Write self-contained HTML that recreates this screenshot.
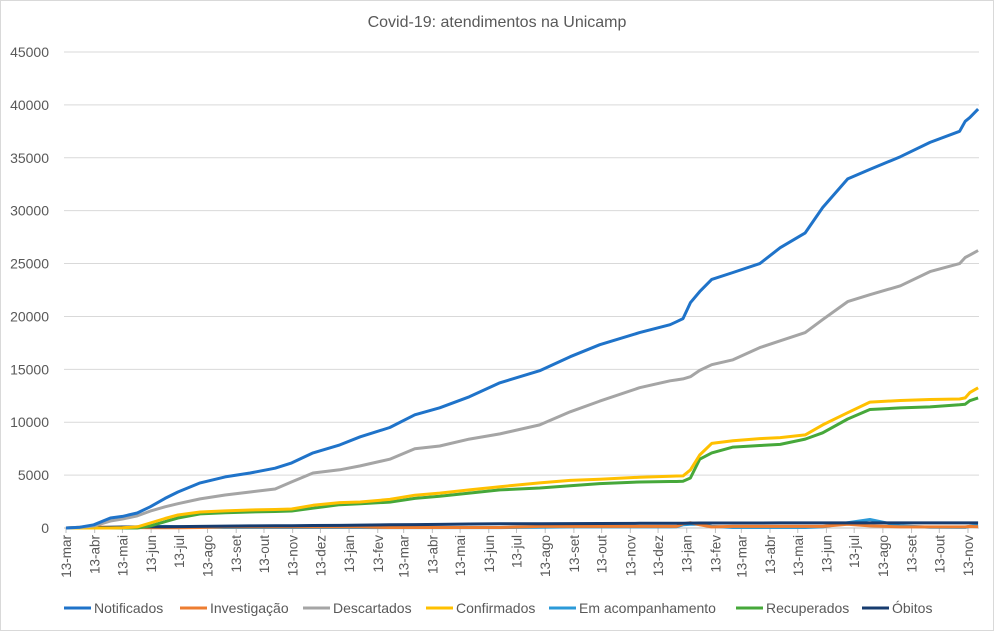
<!DOCTYPE html>
<html><head><meta charset="utf-8">
<style>
html,body{margin:0;padding:0;background:#fff;}
#chart{position:absolute;left:0;top:0;width:994px;height:631px;}
text{font-family:"Liberation Sans",sans-serif;fill:#595959;}
</style></head>
<body>
<svg id="chart" width="994" height="631" viewBox="0 0 994 631">
<rect x="0.5" y="0.5" width="993" height="630" fill="#fff" stroke="#d9d9d9"/>
<text x="497" y="27" text-anchor="middle" font-size="16">Covid-19: atendimentos  na Unicamp</text>
<g id="grid"></g><g id="yticks"></g><g id="xticks"></g><g id="series"></g><g id="legend"></g>
</svg>
<script>
const tickLabels = ["13-mar","13-abr","13-mai","13-jun","13-jul","13-ago","13-set","13-out","13-nov","13-dez","13-jan","13-fev","13-mar","13-abr","13-mai","13-jun","13-jul","13-ago","13-set","13-out","13-nov","13-dez","13-jan","13-fev","13-mar","13-abr","13-mai","13-jun","13-jul","13-ago","13-set","13-out","13-nov"];
const tickDays = [0,31,61,92,122,153,184,214,245,275,306,337,365,396,426,457,487,518,549,579,610,640,671,702,730,761,791,822,852,883,914,944,975];
const yTicks = [0,5000,10000,15000,20000,25000,30000,35000,40000,45000];
const days = [0,15,30,48,61,77,91,107,121,145,172,199,226,244,267,296,318,350,377,404,436,469,512,545,577,620,653,660,667,675,685,698,721,750,772,799,818,845,869,902,934,966,972,977,986];
const notificados = [0,80,300,950,1100,1420,2000,2800,3400,4260,4830,5200,5650,6150,7100,7860,8620,9500,10700,11360,12400,13730,14870,16190,17330,18470,19220,19500,19800,21300,22350,23500,24150,25000,26500,27900,30300,33000,33900,35100,36450,37500,38450,38800,39600];
const investigacao = [0,80,100,60,50,40,30,30,30,50,100,100,100,100,100,100,100,50,50,50,50,50,150,150,150,150,150,150,400,500,300,100,150,150,150,150,150,350,200,100,100,100,100,150,120];
const descartados = [0,60,200,660,850,1140,1600,2000,2300,2750,3120,3400,3690,4360,5200,5500,5870,6500,7500,7750,8400,8900,9750,10990,12000,13260,13920,14000,14100,14300,14900,15440,15900,17050,17700,18470,19700,21400,22060,22900,24240,25000,25570,25800,26230];
const confirmados = [0,0,0,0,30,100,470,900,1230,1510,1620,1700,1750,1800,2150,2400,2460,2700,3100,3300,3600,3900,4260,4500,4600,4800,4900,4920,4930,5490,6900,8000,8250,8450,8550,8800,9750,10900,11900,12050,12150,12200,12300,12800,13250];
const acompanhamento = [0,20,50,60,60,50,100,150,120,80,50,50,50,50,50,50,50,40,40,40,40,40,80,100,100,100,100,120,300,350,350,150,50,50,50,50,100,500,800,200,80,60,60,150,250];
const recuperados = [0,0,0,0,0,0,190,600,950,1330,1450,1510,1560,1610,1870,2200,2300,2450,2800,3000,3300,3600,3780,4000,4200,4350,4400,4400,4420,4730,6500,7100,7650,7800,7900,8400,9000,10300,11200,11350,11450,11650,11700,12030,12300];
const obitos = [0,0,30,80,90,100,110,120,130,150,180,200,210,220,240,250,270,300,320,340,380,400,410,420,430,440,450,450,450,460,470,470,470,470,480,480,480,480,480,480,480,480,480,480,480];

const NS="http://www.w3.org/2000/svg";
const X0=66, PXD=0.9251, Y0=528, YMAX=45000, YTOP=52;
function xs(d){return X0+d*PXD;}
function ys(v){return Y0-(v/YMAX)*(Y0-YTOP);}
function mk(tag,attrs,parent){const e=document.createElementNS(NS,tag);for(const k in attrs)e.setAttribute(k,attrs[k]);parent.appendChild(e);return e;}

const grid=document.getElementById('grid'), yt=document.getElementById('yticks');
yTicks.forEach(v=>{
  const l=mk('line',{x1:64,x2:979,y1:ys(v),y2:ys(v),stroke:v===0?'#bfbfbf':'#d9d9d9','stroke-width':1},grid);
  
  
  const t=mk('text',{x:49,y:ys(v)+5,'text-anchor':'end','font-size':14},yt);
  t.textContent=v;
  
  
});
const xt=document.getElementById('xticks');
tickLabels.forEach((lab,i)=>{
  const x=xs(tickDays[i]);
  const tk=mk('line',{x1:x,x2:x,y1:528,y2:533,stroke:'#bfbfbf'},xt);
  
  
  const t=mk('text',{x:0,y:0,'text-anchor':'end','font-size':13.5,transform:`translate(${x+5},535) rotate(-90)`},xt);
  t.textContent=lab;
  
  
});
const seriesDefs=[
 ['Notificados',notificados,'#1f73c9','series-notificados'],
 ['Investigação',investigacao,'#ed7d31','series-investigacao'],
 ['Descartados',descartados,'#a5a5a5','series-descartados'],
 ['Confirmados',confirmados,'#ffc000','series-confirmados'],
 ['Em acompanhamento',acompanhamento,'#2b9ad8','series-em-acompanhamento'],
 ['Recuperados',recuperados,'#46a83a','series-recuperados'],
 ['Óbitos',obitos,'#173c6f','series-obitos']
];
const sg=document.getElementById('series');
const drawOrder=[4,1,6,5,3,2,0];
drawOrder.forEach(i=>{
  const [name,vals,col,dn]=seriesDefs[i];
  const d=vals.map((v,j)=>(j?'L':'M')+xs(days[j]).toFixed(1)+','+ys(v).toFixed(1)).join(' ');
  const p=mk('path',{d:d,fill:'none',stroke:col,'stroke-width':3,'stroke-linejoin':'round'},sg);
  
  
});
const lg=document.getElementById('legend');
const legX=[64,180,303,426,549,736,862];
seriesDefs.forEach(([name,vals,col,dn],i)=>{
  const g=mk('g',{},lg);
  
  
  mk('line',{x1:legX[i],x2:legX[i]+27,y1:608,y2:608,stroke:col,'stroke-width':3},g);
  const t=mk('text',{x:legX[i]+30,y:613,'font-size':14},g);
  t.textContent=name;
});
</script>
</body></html>
